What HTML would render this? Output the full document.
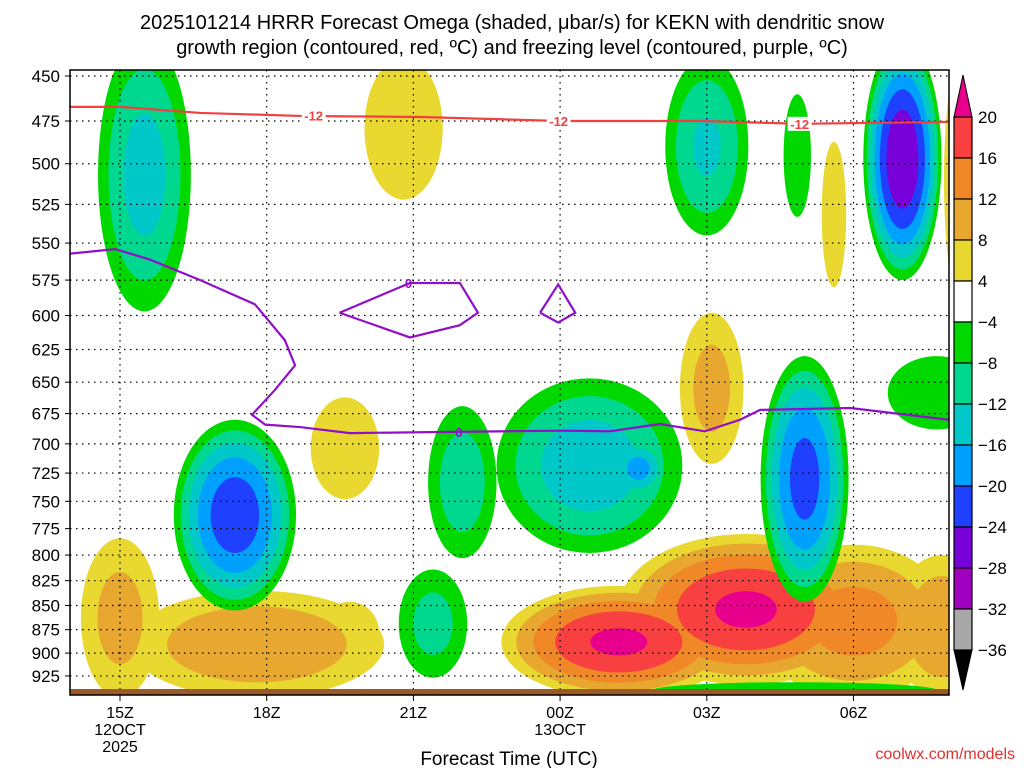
<!DOCTYPE html>
<html><head><meta charset="utf-8"><style>
body{margin:0;background:#fff;width:1024px;height:768px;overflow:hidden;font-family:"Liberation Sans",sans-serif}
svg text{font-family:"Liberation Sans",sans-serif}
</style></head><body>
<svg id="chart" width="1024" height="768" xmlns="http://www.w3.org/2000/svg">
<text x="512" y="29" font-size="20" text-anchor="middle" fill="#000">2025101214 HRRR Forecast Omega (shaded, μbar/s) for KEKN with dendritic snow</text>
<text x="512" y="54" font-size="20" text-anchor="middle" fill="#000">growth region (contoured, red, ºC) and freezing level (contoured, purple, ºC)</text>
<defs><clipPath id="plotclip"><rect x="70" y="70" width="879" height="619"/></clipPath></defs>
<g id="fills" clip-path="url(#plotclip)"></g>
<g id="grid"></g>
<g id="lines" clip-path="url(#plotclip)"></g>
<rect x="70" y="689" width="879" height="6" fill="#9a5a2a"/>
<rect x="70" y="70" width="879" height="625" fill="none" stroke="#000" stroke-width="1.5"/>
<g id="axes"></g>
<g id="cbar"></g>
<text x="509" y="765" font-size="19" text-anchor="middle">Forecast Time (UTC)</text>
<text x="1015" y="759" font-size="16" text-anchor="end" fill="#e03030">coolwx.com/models</text>
</svg>
<script>
// Axis categories / ticks
const pressureTicks=[450,475,500,525,550,575,600,625,650,675,700,725,750,775,800,825,850,875,900,925];
const timeTicks=[15,18,21,24,27,30];
const timeLabels=[["15Z","12OCT","2025"],["18Z"],["21Z"],["00Z","13OCT"],["03Z"],["06Z"]];
// Omega blobs: hour, top pressure, bottom pressure, half-width (h), peak value
const negBlobs=[[15.5,430,597,0.95,-14],[17.35,680,855,1.25,-23],[22.0,669,803,0.7,-11],[24.6,647,798,1.9,-15],[25.6,695,748,0.6,-18],[21.4,814,927,0.7,-10],[27.0,440,545,0.85,-13],[28.85,460,533,0.28,-6],[31.0,430,575,0.8,-28],[29.0,630,846,0.9,-22],[31.7,630,688,1.0,-6],[28.8,932,950,2.9,-5]];
const posBlobs=[[15.0,784,950,0.8,10],[17.8,835,950,2.6,12],[19.7,846,912,0.6,8],[20.8,440,522,0.8,6],[19.6,662,748,0.7,6],[27.1,598,717,0.65,10],[25.2,830,950,2.4,21],[27.8,780,935,2.6,21],[30.0,790,950,2.0,14],[31.8,800,950,1.0,12],[29.6,487,580,0.25,6],[32.2,440,590,0.35,14]];
const posLevels=[4,8,12,16,20];
const posColors=["#e8d830","#e8a830","#f08828","#f84040","#e8008c"];
const negLevels=[-4,-8,-12,-16,-20,-24,-28,-32];
const negColors=["#00d800","#00d890","#00c8c8","#00a0ff","#2040ff","#7800d8","#a000c0","#a8a8a8"];
// Contour lines: [hour, pressure]
const dgzLine=[[13.98,467],[15,467],[16.64,470.4],[18.68,472.1],[21.16,472.7],[24.0,475],[26.86,475],[28.9,476.6],[31.95,475.5]];
const frzLine=[[13.98,557],[14.9,554],[15.61,561],[16.64,575],[17.76,592],[18.37,618],[18.58,637],[18.17,656],[17.7,676],[17.97,684],[18.68,686],[19.7,691],[21.75,690],[24.0,689],[25.02,689.5],[26.04,683.5],[26.96,689.5],[27.68,680],[28.09,672],[29.93,670.5],[31.95,680]];
const frzLoop1=[[19.49,598],[20.93,577],[21.95,577],[22.32,598],[21.95,607],[20.93,616],[19.49,598]];
const frzLoop2=[[23.59,598],[23.96,578],[24.31,598],[23.96,605],[23.59,598]];
const cbLabels=["20","16","12","8","4","−4","−8","−12","−16","−20","−24","−28","−32","−36"];

const NS="http://www.w3.org/2000/svg";
const X=h=>120+(h-15)*48.9;
const Y=p=>76+(Math.log(p)-Math.log(450))*832.6;
function mk(tag,attrs,parent){const e=document.createElementNS(NS,tag);for(const k in attrs)e.setAttribute(k,attrs[k]);parent.appendChild(e);return e;}
const fills=document.getElementById('fills');
function drawBlobs(blobs,levels,colors){
  for(let i=0;i<levels.length;i++){
    const L=Math.abs(levels[i]);
    blobs.forEach(b=>{
      const pk=Math.abs(b[4]);
      if(pk<=L)return;
      const f=Math.sqrt((pk-L)/(pk-4));
      const y1=Y(b[1]),y2=Y(b[2]);
      const e=mk('ellipse',{cx:X(b[0]),cy:(y1+y2)/2,rx:b[3]*48.9*f,ry:(y2-y1)/2*f,fill:colors[i]},fills);
      
      
    });
  }
}
drawBlobs(posBlobs,posLevels,posColors);
drawBlobs(negBlobs,negLevels,negColors);
// grid
const grid=document.getElementById('grid'),axes=document.getElementById('axes');
pressureTicks.forEach(p=>{
  const y=Y(p);
  const g=mk('line',{x1:70,x2:949,y1:y,y2:y,stroke:'#000','stroke-width':1.2,'stroke-dasharray':'1.5 4.5'},grid);
  
  
  mk('line',{x1:65,x2:70,y1:y,y2:y,stroke:'#000'},axes);
  const t=mk('text',{x:60,y:y+6,'font-size':17,'text-anchor':'end'},axes);t.textContent=p;
  
  
});
timeTicks.forEach((h,i)=>{
  const x=X(h);
  const g=mk('line',{x1:x,x2:x,y1:70,y2:689,stroke:'#000','stroke-width':1.2,'stroke-dasharray':'1.5 4.5'},grid);
  
  
  mk('line',{x1:x,x2:x,y1:695,y2:701,stroke:'#000'},axes);
  timeLabels[i].forEach((s,j)=>{
    const t=mk('text',{x:x,y:718+j*17,'font-size':16,'text-anchor':'middle'},axes);t.textContent=s;
    
    
  });
});
// contour lines
const lines=document.getElementById('lines');
function poly(pts,color,name){
  const e=mk('polyline',{points:pts.map(p=>X(p[0])+','+Y(p[1])).join(' '),fill:'none',stroke:color,'stroke-width':2.2},lines);
  
  
}
poly(dgzLine,'#f04040','dgz-minus12-contour');
poly(frzLine,'#9010c8','freezing-level-contour');
poly(frzLoop1,'#9010c8','freezing-loop-contour');
poly(frzLoop2,'#9010c8','freezing-loop-contour');
function lbl(h,p,s,c){const t=mk('text',{x:X(h),y:Y(p)+5,'font-size':13,'font-weight':'bold','text-anchor':'middle',fill:c},lines);t.textContent=s;
  
  }
[[18.96,472],[23.97,475],[28.9,476.6]].forEach(q=>{mk('rect',{x:X(q[0])-12,y:Y(q[1])-7,width:24,height:14,fill:'#fff'},lines);lbl(q[0],q[1],'-12','#f04040');});
lbl(20.9,577,'0','#9010c8');lbl(21.93,690,'0','#9010c8');
// colorbar
const cb=document.getElementById('cbar');
const cbColors=["#f84040","#f08828","#e8a830","#e8d830","#ffffff","#00d800","#00d890","#00c8c8","#00a0ff","#2040ff","#7800d8","#a000c0","#a8a8a8"];
const cbTop=117,cbStep=41,cx0=954,cw=18;
mk('polygon',{points:`${cx0},${cbTop} ${cx0+cw},${cbTop} ${cx0+cw/2},75`,fill:'#e8008c',stroke:'#000'},cb);
cbColors.forEach((c,i)=>{const r=mk('rect',{x:cx0,y:cbTop+i*cbStep,width:cw,height:cbStep,fill:c,stroke:'#000','stroke-width':1.2},cb);
  
  });
mk('polygon',{points:`${cx0},${cbTop+13*cbStep} ${cx0+cw},${cbTop+13*cbStep} ${cx0+cw/2},690`,fill:'#000',stroke:'#000'},cb);
cbLabels.forEach((s,i)=>{const t=mk('text',{x:978,y:cbTop+i*cbStep+6,'font-size':17},cb);t.textContent=s;
  
  });
</script>
</body></html>
